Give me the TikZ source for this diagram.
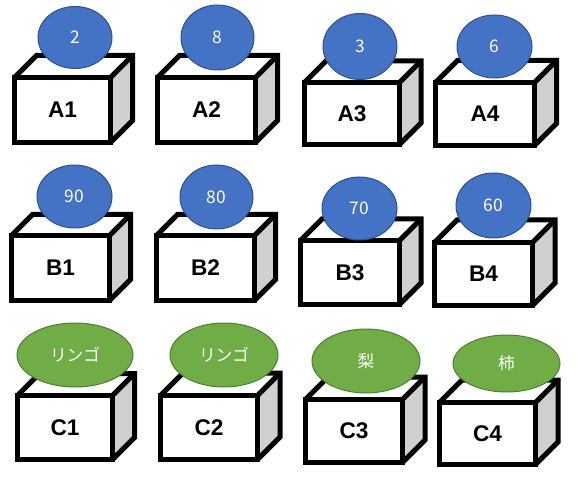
\documentclass[tikz,border=0pt]{standalone}
\usepackage{fontspec}
\setmainfont{Liberation Sans}
\newfontfamily\jp{Noto Sans CJK JP}
\usetikzlibrary{shapes.geometric,calc}
\definecolor{ballblue}{HTML}{4472C4}
\definecolor{ballblueline}{HTML}{2F528F}
\definecolor{ballgreen}{HTML}{70AD47}
\definecolor{ballgreenline}{HTML}{507E32}
\definecolor{sidegray}{HTML}{D0D0D0}
\def\u{0.75pt}
\tikzset{
  front/.style={draw=black, fill=white, line width=5*\u, outer sep=0pt, inner sep=0pt,
    font=\fontsize{17}{20}\selectfont\bfseries},
  edge/.style={draw=black, line width=5*\u, line join=miter},
  ballb/.style={ellipse, draw=ballblueline, fill=ballblue, line width=1*\u, inner sep=0pt,
    text=white, font=\jp\fontsize{13}{15}\selectfont},
  ballg/.style={ellipse, draw=ballgreenline, fill=ballgreen, line width=1*\u, inner sep=0pt,
    text=white, font=\jp\fontsize{12.5}{15}\selectfont},
}
% #1 name/label, #2 L, #3 T, #4 R, #5 B (centre-line), #6 depth
\newcommand\mkcube[6]{%
  \fill[white] (#2,#3) -- (#2+#6,#3-#6) -- (#4+#6,#3-#6) -- (#4,#3) -- cycle;
  \fill[sidegray] (#4,#3) -- (#4+#6,#3-#6) -- (#4+#6,#5-#6) -- (#4,#5) -- cycle;
  \node[front, minimum width={(#4-#2)*\u}, minimum height={(#5-#3)*\u}] (#1) at ({(#2+#4)/2},{(#3+#5)/2}) {#1};
  \draw[edge] (#1.north west) -- ++(#6,-#6) -- ($(#1.north east)+(#6,-#6)$) -- ($(#1.south east)+(#6,-#6)$) -- (#1.south east);
  \draw[edge] (#1.north east) -- ++(#6,-#6);
}
% #1 style, #2 name, #3 cx, #4 cy, #5 rx, #6 ry, #7 text
\newcommand\mkball[7]{%
  \node[#1, minimum width={2*#5*\u}, minimum height={2*#6*\u}] (#2) at (#3,#4) {#7};
}
\begin{document}
\begin{tikzpicture}[x=0.75pt, y=-0.75pt]
\useasboundingbox (0,0) rectangle (578,477);
\mkcube{A1}{14.5}{77.5}{110.5}{142.5}{22}
\mkcube{A2}{157.5}{77.5}{255.5}{142.5}{22}
\mkcube{A3}{304.5}{82.5}{399.5}{144.5}{21.5}
\mkcube{A4}{435.5}{82.5}{534.5}{145.5}{22}
\mkcube{B1}{11.5}{235.5}{109.5}{300.5}{21}
\mkcube{B2}{156.5}{235.5}{254.5}{300.5}{21}
\mkcube{B3}{300.5}{240.5}{399.5}{304.5}{21.5}
\mkcube{B4}{434.5}{242.5}{532.5}{305.5}{22.5}
\mkcube{C1}{17.5}{395.5}{112.5}{459.5}{22}
\mkcube{C2}{160.5}{395.5}{257.5}{459.5}{22.5}
\mkcube{C3}{305.5}{399.5}{402.5}{462.5}{22.5}
\mkcube{C4}{439.5}{402.5}{535.5}{464.5}{22.5}
\mkball{ballb}{a1}{75}{37.5}{37}{31}{2}
\mkball{ballb}{a2}{217.5}{37.5}{36.5}{32.5}{8}
\mkball{ballb}{a3}{360}{46.5}{37}{33}{3}
\mkball{ballb}{a4}{494.5}{46.5}{37.5}{31.5}{6}
\mkball{ballb}{b1}{74.5}{196.5}{37.5}{31.5}{90}
\mkball{ballb}{b2}{216.5}{197}{36.5}{32}{80}
\mkball{ballb}{b3}{359.5}{208.5}{37.5}{31.5}{70}
\mkball{ballb}{b4}{493.5}{205.5}{37.5}{32.5}{60}
\mkball{ballg}{c1}{75}{355}{58}{32}{リンゴ}
\mkball{ballg}{c2}{224}{355}{54}{32}{リンゴ}
\mkball{ballg}{c3}{366}{361}{54}{32}{梨}
\mkball{ballg}{c4}{506.5}{363.5}{53.5}{28.5}{柿}
\end{tikzpicture}
\end{document}
